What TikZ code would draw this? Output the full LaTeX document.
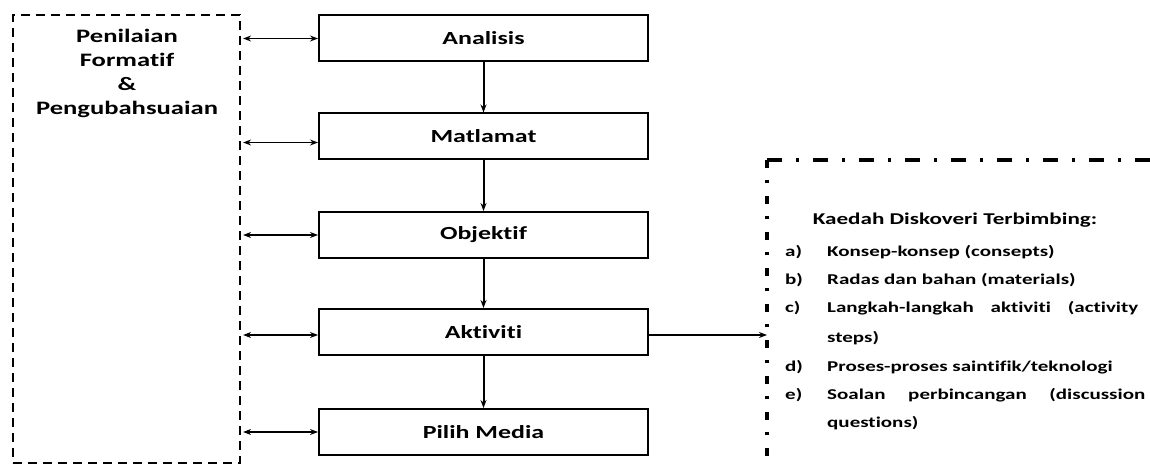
\documentclass[tikz,border=0pt]{standalone}
\usepackage{fontspec}
\setmainfont[FakeStretch=1.4,Ligatures=NoCommon]{Carlito}
\usetikzlibrary{arrows.meta}
\begin{document}
\begin{tikzpicture}[x=1pt,y=-1pt,
  stagebox/.style={draw, line width=2pt, minimum width=329pt, minimum height=46pt, inner sep=0pt,
    font=\bfseries\fontsize{18.5}{20}\selectfont},
  sidebox/.style={draw, line width=2.2pt, dash pattern=on 9pt off 6pt, minimum width=227pt, minimum height=448pt, inner sep=0pt},
  sidetext/.style={align=center, inner sep=0pt, font=\bfseries\fontsize{19}{24}\selectfont},
  dbl/.style={{Stealth[length=8pt,width=6pt]}-{Stealth[length=8pt,width=6pt]}, line width=1.2pt, shorten <=2pt},
  down/.style={-{Stealth[length=8pt,width=6pt]}, line width=2pt},
  topedge/.style={line width=3.2pt, dash pattern=on 15pt off 14pt on 3pt off 14pt},
  leftedge/.style={line width=3.2pt, dash pattern=on 8pt off 12pt on 3pt off 13pt},
  heading/.style={inner sep=0pt, font=\bfseries\fontsize{16.5}{18}\selectfont},
  itemtext/.style={anchor=west, inner sep=0pt, text height=11pt, text depth=3pt, font=\bfseries\fontsize{15}{17}\selectfont}
]
\useasboundingbox (0,0) rectangle (1150,465);

% stages
\node[stagebox] (an) at (483.5,38.5) {Analisis};
\node[stagebox] (ma) at (483.5,136.5) {Matlamat};
\node[stagebox] (ob) at (483.5,235) {Objektif};
\node[stagebox] (ak) at (483.5,332) {Aktiviti};
\node[stagebox] (pm) at (483.5,432) {Pilih Media};

% formative assessment box
\node[sidebox] (lb) at (126.5,239) {};
\node[sidetext] (lt) at (127,73) {Penilaian\\Formatif\\\&\\Pengubahsuaian};

% guided discovery box (open at right and bottom)
\coordinate (rtl) at (767,160);
\coordinate (rtr) at (1150,160);
\coordinate (rbl) at (767,465);
\draw[topedge] (rtl) -- (rtr);
\draw[leftedge] (rtl) -- (rbl);

% connectors
\draw[down] (an) -- (ma);
\draw[down] (ma) -- (ob);
\draw[down] (ob) -- (ak);
\draw[down] (ak) -- (pm);

\draw[dbl] (an.west -| lb.east) -- (an.west);
\draw[dbl] ([yshift=-6pt]ma.west -| lb.east) -- ([yshift=-6pt]ma.west);
\draw[dbl] (ob.west -| lb.east) -- (ob.west);
\draw[dbl] ([yshift=-3pt]ak.west -| lb.east) -- ([yshift=-3pt]ak.west);
\draw[dbl] (pm.west -| lb.east) -- (pm.west);

\draw[down, line width=1.4pt] ([yshift=-3pt]ak.east) -- ([yshift=-3pt]ak.east -| rtl);

% list text
\node[heading] (hd) at (955,220) {Kaedah Diskoveri Terbimbing:};
\node[itemtext] (la) at (785,252) {a)};
\node[itemtext] (ta) at (827,252) {Konsep-konsep (consepts)};
\node[itemtext] (lb2) at (785,280) {b)};
\node[itemtext] (tb) at (827,280) {Radas dan bahan (materials)};
\node[itemtext] (lc) at (785,308) {c)};
\node[itemtext] (tc) at (827,308) {\hbox to 311pt{Langkah-langkah\hfill aktiviti\hfill (activity}};
\node[itemtext] (tc2) at (827,338) {steps)};
\node[itemtext] (ld) at (785,367) {d)};
\node[itemtext] (td) at (827,367) {Proses-proses saintifik/teknologi};
\node[itemtext] (le) at (785,395) {e)};
\node[itemtext] (te) at (827,395) {\hbox to 318pt{Soalan\hfill perbincangan\hfill (discussion}};
\node[itemtext] (te2) at (827,423) {questions)};
\end{tikzpicture}
\end{document}
